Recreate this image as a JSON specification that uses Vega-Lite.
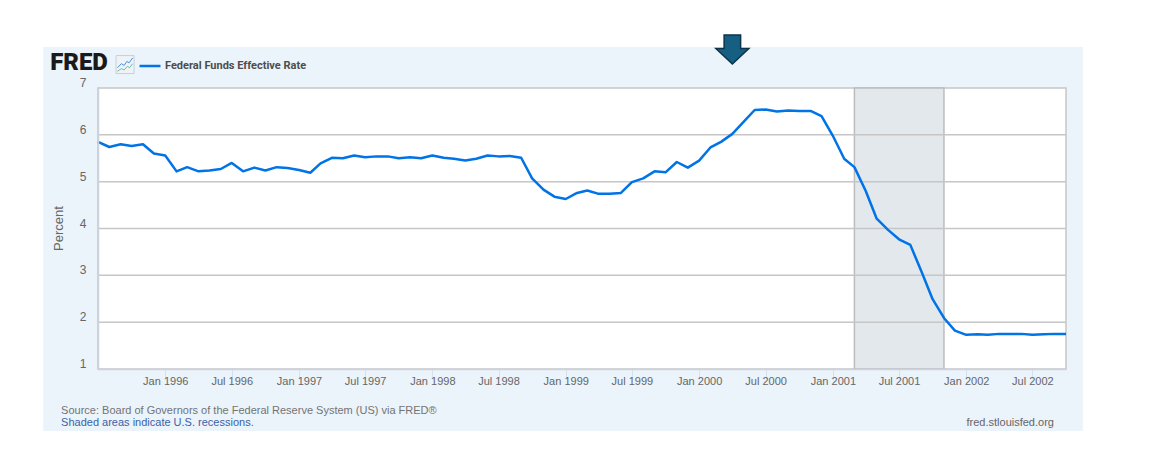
{
"$schema":"https://vega.github.io/schema/vega-lite/v6.json",
"width":968,"height":281,"autosize":"none",
"padding":{"left":98,"top":88,"right":86,"bottom":94},
"background":"white",
"view":{"stroke":null},
"config":{"font":"Liberation Sans"},
"datasets":{
"rate":[
{"date":"1995/07/01","rate":5.85},{"date":"1995/08/01","rate":5.74},{"date":"1995/09/01","rate":5.80},{"date":"1995/10/01","rate":5.76},{"date":"1995/11/01","rate":5.80},{"date":"1995/12/01","rate":5.60},
{"date":"1996/01/01","rate":5.56},{"date":"1996/02/01","rate":5.22},{"date":"1996/03/01","rate":5.31},{"date":"1996/04/01","rate":5.22},{"date":"1996/05/01","rate":5.24},{"date":"1996/06/01","rate":5.27},{"date":"1996/07/01","rate":5.40},{"date":"1996/08/01","rate":5.22},{"date":"1996/09/01","rate":5.30},{"date":"1996/10/01","rate":5.24},{"date":"1996/11/01","rate":5.31},{"date":"1996/12/01","rate":5.29},
{"date":"1997/01/01","rate":5.25},{"date":"1997/02/01","rate":5.19},{"date":"1997/03/01","rate":5.39},{"date":"1997/04/01","rate":5.51},{"date":"1997/05/01","rate":5.50},{"date":"1997/06/01","rate":5.56},{"date":"1997/07/01","rate":5.52},{"date":"1997/08/01","rate":5.54},{"date":"1997/09/01","rate":5.54},{"date":"1997/10/01","rate":5.50},{"date":"1997/11/01","rate":5.52},{"date":"1997/12/01","rate":5.50},
{"date":"1998/01/01","rate":5.56},{"date":"1998/02/01","rate":5.51},{"date":"1998/03/01","rate":5.49},{"date":"1998/04/01","rate":5.45},{"date":"1998/05/01","rate":5.49},{"date":"1998/06/01","rate":5.56},{"date":"1998/07/01","rate":5.54},{"date":"1998/08/01","rate":5.55},{"date":"1998/09/01","rate":5.51},{"date":"1998/10/01","rate":5.07},{"date":"1998/11/01","rate":4.83},{"date":"1998/12/01","rate":4.68},
{"date":"1999/01/01","rate":4.63},{"date":"1999/02/01","rate":4.76},{"date":"1999/03/01","rate":4.81},{"date":"1999/04/01","rate":4.74},{"date":"1999/05/01","rate":4.74},{"date":"1999/06/01","rate":4.76},{"date":"1999/07/01","rate":4.99},{"date":"1999/08/01","rate":5.07},{"date":"1999/09/01","rate":5.22},{"date":"1999/10/01","rate":5.20},{"date":"1999/11/01","rate":5.42},{"date":"1999/12/01","rate":5.30},
{"date":"2000/01/01","rate":5.45},{"date":"2000/02/01","rate":5.73},{"date":"2000/03/01","rate":5.85},{"date":"2000/04/01","rate":6.02},{"date":"2000/05/01","rate":6.27},{"date":"2000/06/01","rate":6.53},{"date":"2000/07/01","rate":6.54},{"date":"2000/08/01","rate":6.50},{"date":"2000/09/01","rate":6.52},{"date":"2000/10/01","rate":6.51},{"date":"2000/11/01","rate":6.51},{"date":"2000/12/01","rate":6.40},
{"date":"2001/01/01","rate":5.98},{"date":"2001/02/01","rate":5.49},{"date":"2001/03/01","rate":5.31},{"date":"2001/04/01","rate":4.80},{"date":"2001/05/01","rate":4.21},{"date":"2001/06/01","rate":3.97},{"date":"2001/07/01","rate":3.77},{"date":"2001/08/01","rate":3.65},{"date":"2001/09/01","rate":3.07},{"date":"2001/10/01","rate":2.49},{"date":"2001/11/01","rate":2.09},{"date":"2001/12/01","rate":1.82},
{"date":"2002/01/01","rate":1.73},{"date":"2002/02/01","rate":1.74},{"date":"2002/03/01","rate":1.73},{"date":"2002/04/01","rate":1.75},{"date":"2002/05/01","rate":1.75},{"date":"2002/06/01","rate":1.75},{"date":"2002/07/01","rate":1.73},{"date":"2002/08/01","rate":1.74},{"date":"2002/09/01","rate":1.75},{"date":"2002/10/01","rate":1.75}
],
"recession":[{"start":"2001/03/01","end":"2001/11/01"}],
"grid":[{"level":2},{"level":3},{"level":4},{"level":5},{"level":6}]
},
"layer":[
{"data":{"values":[{}]},"mark":{"type":"rect","fill":"#ebf3fb"},
 "encoding":{"x":{"datum":{"year":1995,"month":2,"date":1},"type":"temporal"},"x2":{"datum":{"year":2002,"month":11,"date":16}},
 "y":{"datum":7.875,"type":"quantitative"},"y2":{"datum":-0.324}}},
{"data":{"values":[{}]},"mark":{"type":"rect","fill":"white","stroke":"#c6c6c6","strokeWidth":1.5},
 "encoding":{"x":{"datum":{"year":1995,"month":7,"date":1},"type":"temporal"},"x2":{"datum":{"year":2002,"month":10,"date":1}},
 "y":{"datum":7,"type":"quantitative"},"y2":{"datum":1}}},
{"data":{"name":"recession"},"mark":{"type":"rect","fill":"#e3e8ed","stroke":"#bcbcbc","strokeWidth":1.5},
 "encoding":{"x":{"field":"start","type":"temporal"},"x2":{"field":"end"}}},
{"data":{"name":"grid"},"mark":{"type":"rule","stroke":"#c6c6c6","strokeWidth":1.5},
 "encoding":{"y":{"field":"level","type":"quantitative"}}},
{"data":{"name":"rate"},"mark":{"type":"line","strokeWidth":2.5,"strokeJoin":"round"},
 "encoding":{
  "x":{"field":"date","type":"temporal",
   "scale":{"domain":[{"year":1995,"month":7,"date":1},{"year":2002,"month":10,"date":1}]},
   "axis":{"title":null,"zindex":1,"format":"%b %Y","grid":false,
    "values":[{"year":1996,"month":1,"date":1},{"year":1996,"month":7,"date":1},{"year":1997,"month":1,"date":1},{"year":1997,"month":7,"date":1},{"year":1998,"month":1,"date":1},{"year":1998,"month":7,"date":1},{"year":1999,"month":1,"date":1},{"year":1999,"month":7,"date":1},{"year":2000,"month":1,"date":1},{"year":2000,"month":7,"date":1},{"year":2001,"month":1,"date":1},{"year":2001,"month":7,"date":1},{"year":2002,"month":1,"date":1},{"year":2002,"month":7,"date":1}],
    "tickColor":"#d5e0ee","tickSize":10,"tickWidth":1,"domainColor":"#ccd2de","domainWidth":1.5,
    "labelColor":"#666666","labelFontSize":11,"labelPadding":-4,"labelOverlap":false,"labelFlush":false}},
  "y":{"field":"rate","type":"quantitative",
   "scale":{"domain":[1,7],"nice":false,"zero":false},
   "axis":{"title":"Percent","zindex":1,"values":[1,2,3,4,5,6,7],"format":"d","grid":false,"ticks":false,
    "domainColor":"#ccd2de","domainWidth":1.5,
    "labelColor":"#666666","labelFontSize":12,"labelPadding":12,"labelOffset":-5.5,
    "titleColor":"#666666","titleFontSize":13,"titleFontWeight":"normal","titleX":-33,"titleY":140,"titleAnchor":"middle"}},
  "color":{"datum":"Federal Funds Effective Rate","scale":{"range":["#0073e6"]},
   "legend":{"title":null,"orient":"none","legendX":40,"legendY":-34,"symbolType":"stroke","symbolSize":440,"symbolStrokeWidth":2.5,
    "labelColor":"#4d4d4d","labelFontSize":11,"labelFontWeight":"bold","labelFont":"Roboto","labelOffset":3,"padding":0}}
 }},
{"data":{"values":[{}]},"mark":{"type":"point","filled":true,"opacity":1,"fill":"#156082","stroke":"#0c3348","strokeWidth":1.5,"size":1089,
  "shape":"M-0.5,-0.88 L0.5,-0.88 L0.5,-0.06 L1,-0.06 L0,0.88 L-1,-0.06 L-0.5,-0.06 Z"},
 "encoding":{"x":{"datum":{"year":2000,"month":4,"date":1},"type":"temporal"},"y":{"datum":7.822,"type":"quantitative"}}},
{"data":{"values":[{}]},"mark":{"type":"text","text":"FRED","align":"left","baseline":"middle","font":"Roboto","fontWeight":900,"fontSize":24,"fill":"#1a1a1a"},
 "encoding":{"x":{"datum":{"year":1995,"month":2,"date":20},"type":"temporal"},"y":{"datum":7.53,"type":"quantitative"}}},
{"data":{"values":[{}]},"mark":{"type":"point","filled":true,"opacity":1,"fill":"#eef3f8","stroke":"#c9cfd6","strokeWidth":1,"size":324,
  "shape":"M-1,-1 L1,-1 L1,1 L-1,1 Z"},
 "encoding":{"x":{"datum":{"year":1995,"month":9,"date":13},"type":"temporal"},"y":{"datum":7.5,"type":"quantitative"}}},
{"data":{"values":[{}]},"mark":{"type":"point","filled":false,"opacity":1,"stroke":"#4f8fd8","strokeWidth":1,"size":324,
  "shape":"M-0.85,0.35 L-0.4,-0.1 L-0.1,0.1 L0.2,-0.35 L0.45,-0.2 L0.85,-0.75"},
 "encoding":{"x":{"datum":{"year":1995,"month":9,"date":13},"type":"temporal"},"y":{"datum":7.5,"type":"quantitative"}}},
{"data":{"values":[{}]},"mark":{"type":"point","filled":false,"opacity":1,"stroke":"#6fbfa8","strokeWidth":1,"size":324,
  "shape":"M-0.85,0.75 L-0.4,0.45 L-0.1,0.6 L0.25,0.2 L0.5,0.35 L0.85,-0.1"},
 "encoding":{"x":{"datum":{"year":1995,"month":9,"date":13},"type":"temporal"},"y":{"datum":7.5,"type":"quantitative"}}},
{"data":{"values":[{}]},"mark":{"type":"text","text":"Source: Board of Governors of the Federal Reserve System (US) via FRED®","align":"left","baseline":"middle","fontSize":11,"fill":"#737373"},
 "encoding":{"x":{"datum":{"year":1995,"month":3,"date":22},"type":"temporal"},"y":{"datum":0.103,"type":"quantitative"}}},
{"data":{"values":[{}]},"mark":{"type":"text","text":"Shaded areas indicate U.S. recessions.","align":"left","baseline":"middle","fontSize":11,"fill":"#3b62a5"},
 "encoding":{"x":{"datum":{"year":1995,"month":3,"date":22},"type":"temporal"},"y":{"datum":-0.153,"type":"quantitative"}}},
{"data":{"values":[{}]},"mark":{"type":"text","text":"fred.stlouisfed.org","align":"right","baseline":"middle","fontSize":11,"fill":"#666666"},
 "encoding":{"x":{"datum":{"year":2002,"month":8,"date":29},"type":"temporal"},"y":{"datum":-0.153,"type":"quantitative"}}}
]
}
